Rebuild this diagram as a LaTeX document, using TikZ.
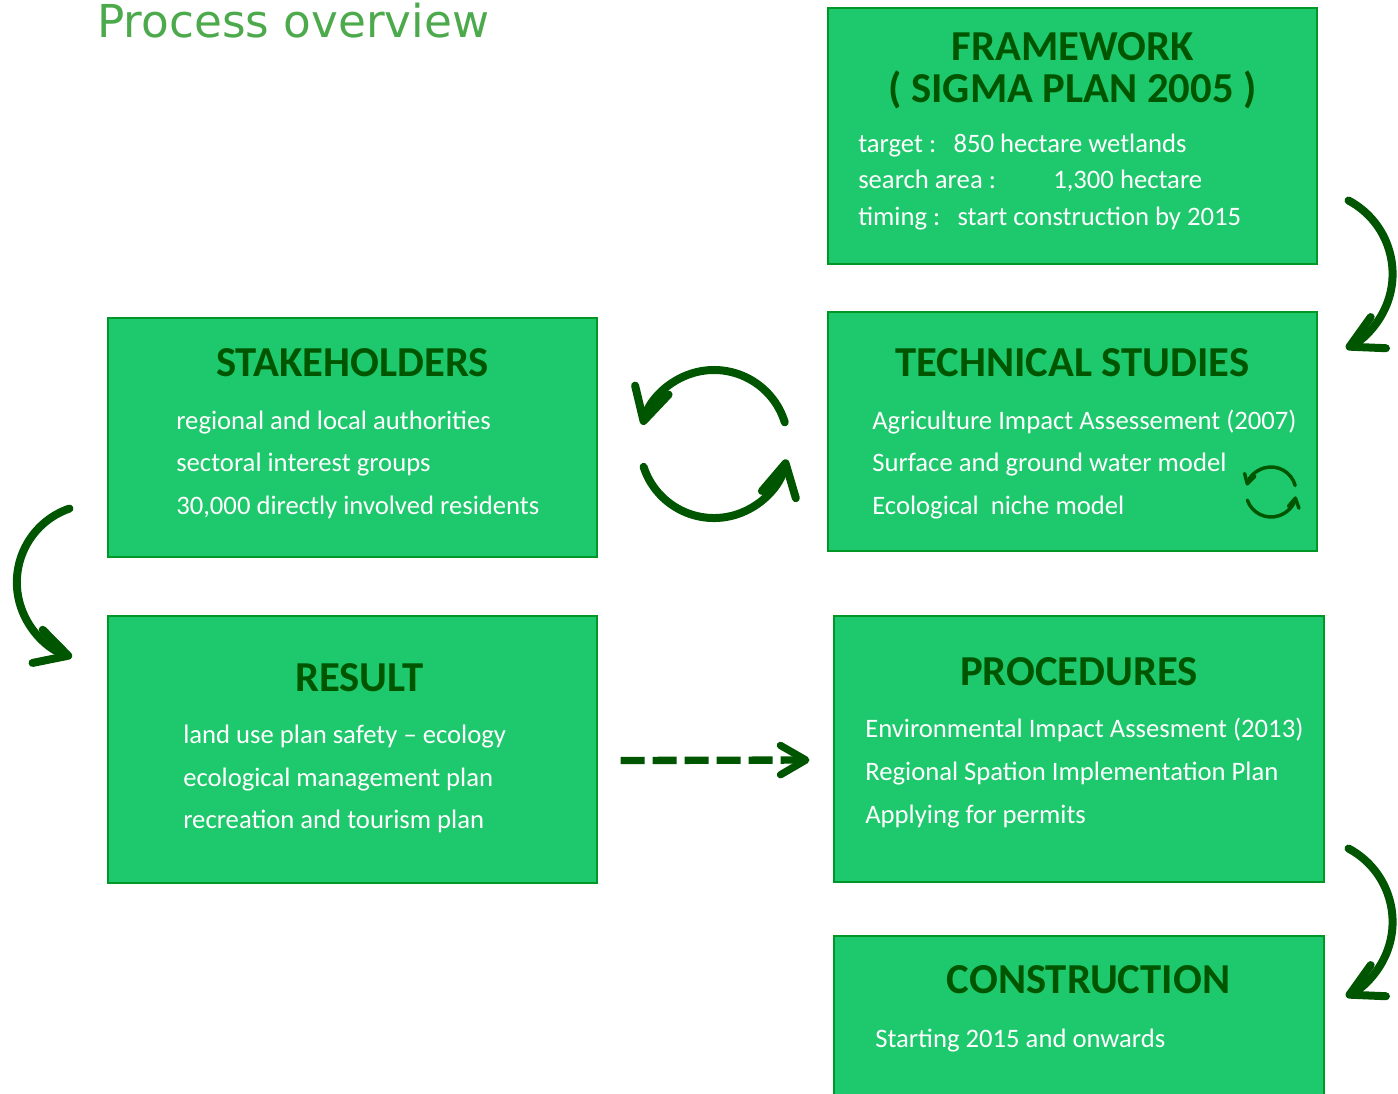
\documentclass[tikz,border=0pt]{standalone}
\usepackage{fontspec}
\setmainfont{Carlito}
\newfontfamily\titlefont{DejaVu Sans}
\usepackage{tikz}
\usetikzlibrary{arrows.meta,fit,calc}
\definecolor{boxgreen}{RGB}{30,200,108}
\definecolor{edgegreen}{RGB}{0,150,40}
\definecolor{darkgreen}{RGB}{0,85,0}
\definecolor{titlegreen}{RGB}{76,170,76}

\begin{document}
\begin{tikzpicture}[x=0.75pt,y=-0.75pt,
  box/.style={draw=edgegreen,line width=0.8pt,fill=boxgreen,inner sep=0pt},
  head/.style={anchor=base,inner sep=0pt,text=darkgreen,font=\fontsize{32}{36}\selectfont\bfseries},
  item/.style={anchor=base west,inner sep=0pt,text=white,font=\fontsize{20}{24}\selectfont},
  bigarrow/.style={draw=darkgreen,line width=6pt,line cap=round,-{Straight Barb[length=24pt,width=26pt,round]}},
  smallarrow/.style={draw=darkgreen,line width=2.6pt,line cap=round,-{Straight Barb[length=7pt,width=8pt,round]}},
  dasharrow/.style={draw=darkgreen,line width=5.5pt,dash pattern=on 18pt off 6pt,-{Straight Barb[length=19pt,width=22pt,round]}}]
\useasboundingbox (0,0) rectangle (1398,1093);
\node[anchor=base west,inner sep=0pt,text=titlegreen,font=\titlefont\fontsize{34}{40}\selectfont] (title) at (97,37) {Process overview};

\node[box,fit={(828,8) (1317,264)}] (fw) {};
\node[box,fit={(108,318) (597,557)}] (sh) {};
\node[box,fit={(828,312) (1317,551)}] (ts) {};
\node[box,fit={(108,616) (597,883)}] (res) {};
\node[box,fit={(834,616) (1324,882)}] (proc) {};
\node[box,fit={(834,936) (1324,1110)}] (cons) {};

\node[head] (fwhead) at (1072.5,60) {FRAMEWORK};
\node[head] (fwsub) at (1072.5,102) {( SIGMA PLAN 2005 )};
\node[item] (fw1) at (858,152) {target :\hspace{13pt}850 hectare wetlands};
\node[item] (fw2) at (858,188) {search area :\hspace{43pt}1,300 hectare};
\node[item] (fw3) at (858,225) {timing :\hspace{13pt}start construction by 2015};

\node[head] (shhead) at (352.5,376) {STAKEHOLDERS};
\node[item] (sh1) at (176,429) {regional and local authorities};
\node[item] (sh2) at (176,471) {sectoral interest groups};
\node[item] (sh3) at (176,514) {30,000 directly involved residents};

\node[head] (tshead) at (1072.5,376) {TECHNICAL STUDIES};
\node[item] (ts1) at (872,429) {Agriculture Impact Assessement (2007)};
\node[item] (ts2) at (872,471) {Surface and ground water model};
\node[item] (ts3) at (872,514) {Ecological~~niche model};

\node[head] (reshead) at (359.5,691) {RESULT};
\node[item] (res1) at (183,743) {land use plan safety – ecology};
\node[item] (res2) at (183,786) {ecological management plan};
\node[item] (res3) at (183,828) {recreation and tourism plan};

\node[head] (prochead) at (1079,685) {PROCEDURES};
\node[item] (proc1) at (865,737) {Environmental Impact Assesment (2013)};
\node[item] (proc2) at (865,780) {Regional Spation Implementation Plan};
\node[item] (proc3) at (865,823) {Applying for permits};

\node[head] (conshead) at (1088.5,993) {CONSTRUCTION};
\node[item] (cons1) at (875,1047) {Starting 2015 and onwards};

\coordinate (fwout) at ($(fw.south east)+(31,-64)$);
\coordinate (procout) at ($(proc.south east)+(24,-34)$);
\coordinate (shout) at ($(sh.south west)+(-38,-49)$);
\coordinate (loop) at (714,444);
\coordinate (tsloop) at (1271,492);

\draw[bigarrow] (fwout) arc[start angle=-62,end angle=64,radius=83];
\draw[bigarrow] (procout) arc[start angle=-62,end angle=64,radius=83];
\draw[bigarrow] (shout) arc[start angle=-109,end angle=-253,radius=78];
\draw[bigarrow] ($(loop)+(-17:74)$) arc[start angle=-17,end angle=-165,radius=74];
\draw[bigarrow] ($(loop)+(162:74)$) arc[start angle=162,end angle=12,radius=74];
\draw[smallarrow] ($(tsloop)+(-15:25)$) arc[start angle=-15,end angle=-165,radius=25];
\draw[smallarrow] ($(tsloop)+(161:25)$) arc[start angle=161,end angle=10,radius=25];
\draw[dasharrow] ($(res.east)+(23,11)$) -- ($(proc.west)+(-24,11)$);
\end{tikzpicture}
\end{document}
